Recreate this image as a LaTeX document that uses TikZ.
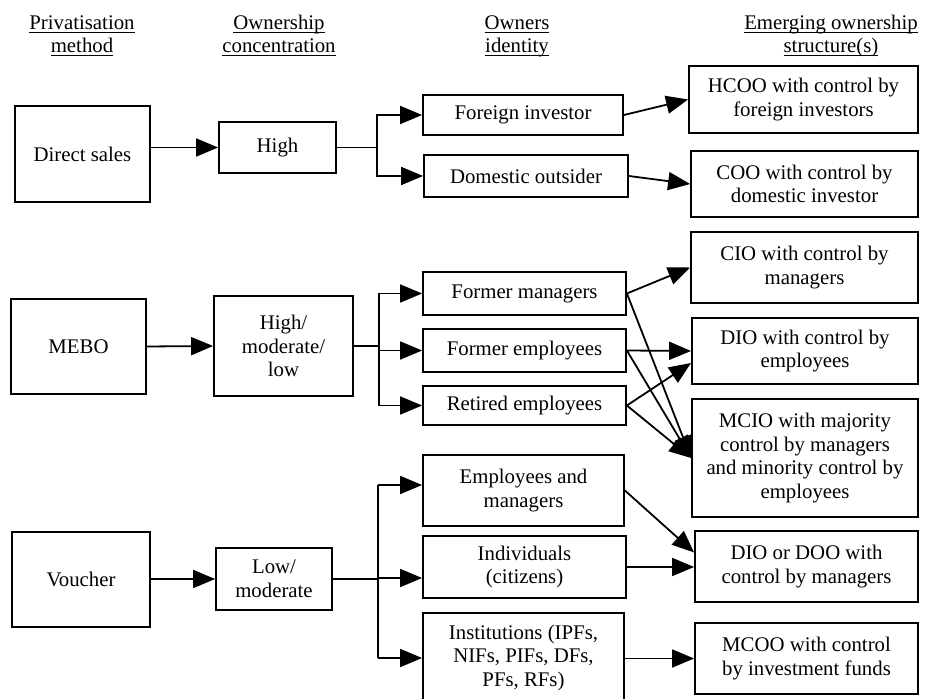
\documentclass[tikz,border=0pt]{standalone}
\usepackage{fontspec}
\setmainfont{Liberation Serif}
\usetikzlibrary{arrows.meta}

% header text: underline sits just under the baseline, descenders cross it
\newcommand\hdline[1]{\underline{\smash{#1}}}

\tikzset{
  every node/.style={font=\fontsize{10.4}{11.8}\selectfont},
  box/.style={draw, line width=0.9pt, inner sep=0pt, align=center},
  head/.style={align=center},
  conn/.style={line width=0.9pt},
  arr/.style={conn, -{Triangle[length=11pt,width=9pt]}}
}

% \bx{x1}{y1}{x2}{y2}{name}{text}: box spanning the two corners
\newcommand\bx[6]{%
  \node[box, minimum width={(#3-#1)*0.5pt}, minimum height={(#4-#2)*0.5pt}]
    (#5) at ({(#1+#3)/2},{(#2+#4)/2}) {#6};}

\begin{document}
\begin{tikzpicture}[x=0.5pt, y=-0.5pt]
\useasboundingbox (0,0) rectangle (933,699);
\clip (0,0) rectangle (933,699);

% column headings
\node[head] (h1) at (82,43)  {\hdline{Privatisation}\\\hdline{method}};
\node[head] (h2) at (279,43) {\hdline{Ownership}\\\hdline{concentration}};
\node[head] (h3) at (517,43) {\hdline{Owners}\\\hdline{identity}};
\node[head] (h4) at (831,43) {\hdline{Emerging ownership}\\\hdline{structure(s)}};

% direct sales
\bx{15}{106}{150}{202}{ds}{Direct sales}
\bx{219}{122}{336}{173}{hi}{High}
\bx{423}{95}{623}{135}{fi}{Foreign investor}
\bx{424}{155}{628}{197}{do}{Domestic outsider}
\bx{689}{66}{918}{133}{hcoo}{HCOO with control by\\foreign investors}
\bx{691}{151}{918}{217}{coo}{COO with control by\\domestic investor}

% management-employee buy-outs
\bx{11}{299}{146}{394}{mebo}{MEBO}
\bx{214}{296}{353}{396}{hml}{High/\\moderate/\\low}
\bx{423}{272}{626}{315}{fm}{Former managers}
\bx{423}{329}{626}{372}{fe}{Former employees}
\bx{423}{386}{626}{425}{re}{Retired employees}
\bx{691}{232}{918}{303}{cio}{CIO with control by\\managers}
\bx{692}{318}{918}{384}{dio}{DIO with control by\\employees}
\bx{692}{399}{918}{517}{mcio}{MCIO with majority\\control by managers\\and minority control by\\employees}

% voucher privatisation
\bx{12}{532}{150}{627}{vou}{Voucher}
\bx{216}{548}{332}{610}{lm}{Low/\\moderate}
\bx{423}{455}{624}{526}{em}{Employees and\\managers}
\bx{423}{536}{626}{598}{ind}{Individuals\\(citizens)}
\bx{423}{613}{624}{703}{inst}{Institutions (IPFs,\\NIFs, PIFs, DFs,\\PFs, RFs)}
\bx{695}{531}{918}{602}{dd}{DIO or DOO with\\control by managers}
\bx{695}{623}{918}{694}{mcoo}{MCOO with control\\by investment funds}

% branch points
\coordinate (j1) at (377,0);
\coordinate (j2) at (379,0);
\coordinate (v1) at (378,485);
\coordinate (v2) at (378,578);
\coordinate (v3) at (378,658);

% direct sales connectors
\draw[arr]  (ds.east |- hi.west) -- (hi.west);
\draw[conn] (hi.east) -- (hi.east -| j1);
\draw[arr]  (hi.east -| j1) |- (fi.west);
\draw[arr]  (hi.east -| j1) |- (do.west);
\draw[arr]  (fi.east) -- (hcoo.west);
\draw[arr]  (do.east) -- (coo.west);

% MEBO connectors
\draw[arr]  (mebo.east) -- (hml.west);
\draw[conn] (hml.east) -- (hml.east -| j2);
\draw[arr]  (hml.east -| j2) |- (fm.west);
\draw[arr]  (hml.east -| j2) |- (re.west);
\draw[arr]  (fe.west -| j2) -- (fe.west);
\draw[arr]  (fm.east) -- (cio.west);
\draw[arr]  (fm.east) -- (mcio.west);
\draw[arr]  (fe.east) -- (dio.west);
\draw[arr]  (fe.east) -- (mcio.west);
\draw[arr]  (re.east) -- ([yshift=-6pt]dio.west);
\draw[arr]  (re.east) -- (mcio.west);

% voucher connectors
\draw[arr]  (vou.east |- lm.west) -- (lm.west);
\draw[conn] (lm.east) -- (lm.east -| v2);
\draw[conn] (v1) -- (v3);
\draw[arr]  (v1) -- (v1 -| em.west);
\draw[arr]  (v2) -- (v2 -| ind.west);
\draw[arr]  (v3) -- (v3 -| inst.west);
\draw[arr]  (em.east) -- ([yshift=7pt]dd.west);
\draw[arr]  (ind.east) -- (ind.east -| dd.west);
\draw[arr]  (inst.east |- mcoo.west) -- (mcoo.west);
\end{tikzpicture}
\end{document}
